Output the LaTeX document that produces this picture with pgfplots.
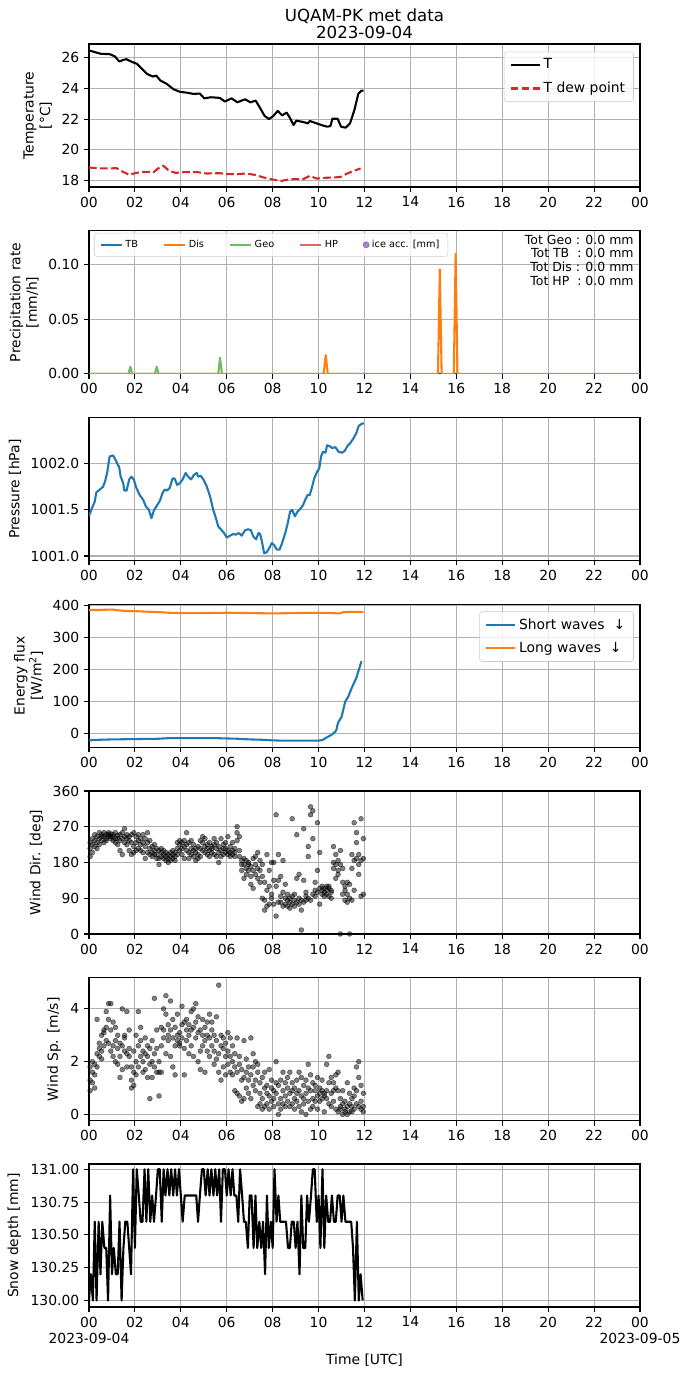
\documentclass[border=0pt]{standalone}
\usepackage{fontspec}
\setmainfont{DejaVu Sans}
\usepackage{pgfplots}
\usepackage{pgfplotstable}
\pgfplotsset{compat=1.18}
\definecolor{C0}{HTML}{1F77B4}
\definecolor{C1}{HTML}{FF7F0E}
\definecolor{C2}{HTML}{2CA02C}
\definecolor{C3}{HTML}{D62728}
\definecolor{C4}{HTML}{9467BD}
\definecolor{gridc}{HTML}{B0B0B0}
\definecolor{frame}{HTML}{CCCCCC}
\colorlet{C2l}{C2!70!white}
\colorlet{C3l}{C3!70!white}

\pgfplotstableread{
t d1 d2 d3 s1 s2 s3
0.05 195 230 215 1.3 1.8 0.9
0.15 240 205 225 1.6 2.0 1.2
0.25 250 235 220 1.9 1.5 1.0
0.35 230 245 215 2.3 3.6 1.8
0.45 240 225 255 2.5 2.2 2.7
0.55 250 235 245 2.4 3.0 2.1
0.65 245 255 230 3.1 2.6 3.2
0.75 240 250 235 3.3 2.8 3.9
0.85 250 245 255 3.6 4.2 2.7
0.95 245 240 252 3.2 2.4 4.2
1.05 250 235 245 2.6 3.5 2.2
1.15 240 255 230 2.8 2.0 3.3
1.25 225 248 240 1.9 2.5 3.0
1.35 210 235 250 2.2 1.4 2.7
1.45 200 255 240 2.6 4.0 1.7
1.55 265 245 230 2.4 3.0 2.9
1.65 250 225 240 2.3 3.9 1.8
1.75 235 210 245 2.5 2.2 3.2
1.85 200 230 250 1.3 1.0 1.8
1.95 220 255 205 1.6 2.4 1.1
2.05 245 230 210 2.0 3.0 1.5
2.15 250 235 215 3.9 2.6 1.8
2.25 240 225 210 3.3 2.2 2.8
2.35 230 250 205 2.0 1.6 2.4
2.45 190 220 240 2.9 1.7 2.3
2.55 205 230 255 2.2 1.4 2.6
2.65 215 200 235 0.6 1.9 2.5
2.75 220 205 195 2.8 2.0 1.4
2.85 210 225 200 4.4 2.3 1.8
2.95 200 215 190 2.5 3.2 1.6
3.05 190 210 175 1.6 0.7 2.0
3.15 215 205 195 3.3 2.6 1.6
3.25 200 190 210 4.0 2.9 3.2
3.35 195 185 205 4.5 3.8 2.3
3.45 200 190 180 3.4 2.8 3.0
3.55 205 195 185 4.3 2.2 3.2
3.65 200 190 210 2.9 1.8 3.6
3.75 195 205 185 3.3 2.6 1.5
3.85 215 230 200 3.8 2.8 3.0
3.95 225 235 210 2.6 3.1 2.7
4.05 230 215 200 4.1 2.9 3.4
4.15 220 235 190 3.5 2.5 1.5
4.25 255 210 225 3.6 2.8 3.2
4.35 230 205 190 2.3 3.0 3.4
4.45 215 200 235 3.9 2.6 3.2
4.55 210 195 225 3.3 4.0 2.2
4.65 205 185 215 4.2 3.5 2.9
4.75 200 190 220 3.1 2.0 3.7
4.85 215 235 195 2.4 1.7 3.2
4.95 230 245 210 3.0 3.6 2.6
5.05 220 205 240 2.8 1.6 3.3
5.15 215 200 225 3.5 2.4 3.0
5.25 210 230 195 3.8 2.9 2.2
5.35 205 220 215 3.2 2.6 3.5
5.45 225 240 200 2.4 3.0 1.9
5.55 215 195 230 3.7 2.1 2.8
5.65 205 180 220 4.9 2.3 1.6
5.75 210 240 195 3.0 1.3 2.6
5.85 225 200 215 2.5 1.8 2.9
5.95 215 205 230 2.7 2.2 1.5
6.05 245 210 200 3.1 2.4 1.9
6.15 220 205 195 2.2 2.9 1.6
6.25 210 230 200 2.0 1.5 2.6
6.35 215 195 205 1.8 0.9 2.3
6.45 270 255 235 2.9 1.6 0.8
6.55 210 245 195 0.7 1.9 2.2
6.65 185 175 160 0.5 1.3 1.7
6.75 140 175 190 2.8 0.6 1.4
6.85 165 185 150 1.0 2.1 1.6
6.95 180 160 175 1.8 0.8 1.3
7.05 125 170 145 2.9 1.5 0.6
7.15 190 115 160 2.3 1.1 1.8
7.25 175 150 195 2.0 1.3 0.9
7.35 140 205 165 1.6 0.3 1.9
7.45 185 130 160 1.2 0.8 0.4
7.55 145 90 175 1.4 0.6 0.2
7.65 60 85 130 1.0 0.3 1.6
7.75 200 110 70 0.4 1.1 0.8
7.85 120 160 75 1.7 0.7 0.2
7.95 180 100 90 1.0 0.5 1.3
8.05 135 75 180 0.9 0.3 0.6
8.15 300 45 120 2.0 0.8 1.2
8.25 200 135 80 0.4 1.1 0.0
8.35 95 80 145 1.3 0.6 0.2
8.45 105 70 185 1.6 0.9 0.4
8.55 90 75 125 0.7 1.2 0.3
8.65 85 100 70 1.0 0.5 1.4
8.75 80 90 65 1.6 0.8 0.3
8.85 290 75 95 0.9 1.2 0.4
8.95 85 70 100 0.6 1.0 0.2
9.05 250 140 80 1.3 0.5 0.8
9.15 90 150 75 1.6 0.9 0.3
9.25 10 60 85 0.7 1.4 0.1
9.35 265 135 80 1.1 0.6 0.4
9.45 95 85 105 0.8 1.3 0.0
9.55 220 195 90 1.9 0.5 1.0
9.65 320 300 85 0.2 0.9 1.5
9.75 310 240 100 0.6 1.2 0.3
9.85 110 130 95 0.9 0.5 1.1
9.95 280 160 105 1.4 0.7 0.2
10.05 205 75 115 0.8 1.0 0.5
10.15 110 120 100 0.9 0.6 1.3
10.25 105 95 115 0.7 0.8 0.1
10.35 120 110 100 1.9 0.9 0.6
10.45 115 95 120 2.2 1.2 0.4
10.55 105 110 90 0.8 1.4 0.3
10.65 220 165 180 1.2 0.5 0.9
10.75 140 200 175 1.5 1.0 0.2
10.85 160 150 185 0.1 0.9 1.6
10.95 0 210 175 0.3 0.6 0.2
11.05 130 100 165 0.0 0.4 0.9
11.15 110 85 120 0.2 0.5 0.1
11.25 100 80 130 1.2 0.3 0.0
11.35 0 125 90 0.4 0.8 0.1
11.45 200 165 85 0.1 0.6 0.3
11.55 185 110 280 1.0 0.2 0.7
11.65 255 230 190 1.8 0.4 0.9
11.75 175 200 150 2.0 1.4 0.3
11.85 290 185 95 0.5 0.2 1.1
11.95 190 240 100 0.3 0.8 0.1
}\windtable

\pgfplotsset{
  panel/.style={
    scale only axis, width=396.72pt, height=102.96pt, anchor=north west,
    xmin=0, xmax=24, xtick={0,2,...,24},
    xticklabels={00,02,04,06,08,10,12,14,16,18,20,22,00},
    grid=major, major grid style={line width=0.8pt, draw=gridc},
    axis line style={line width=0.8pt},
    every tick/.style={line width=0.8pt, black},
    tick align=outside, major tick length=3.5pt, tick pos=left,
    tick label style={font=\fontsize{10}{12}\selectfont},
    label style={font=\fontsize{10}{12}\selectfont},
    ylabel style={align=center},
    /pgf/number format/assume math mode=true,
    /pgf/number format/1000 sep={},
    scaled ticks=false,
    no markers,
    every axis plot/.append style={line join=round},
    legend cell align=left,
    legend image code/.code={\draw[mark repeat=2,mark phase=2,##1] plot coordinates {(0pt,0pt) (10.5pt,0pt) (21pt,0pt)};},
  },
  mpllegend/.style={legend style={draw=frame, rounded corners=2pt, fill=white, fill opacity=0.8, text opacity=1, font=\fontsize{10}{12}\selectfont, row sep=4pt, inner xsep=4pt, inner ysep=3pt}},
  scat/.style={only marks, mark=*, mark size=1.75pt, mark options={solid, fill=black, draw=black, line width=0.4pt, fill opacity=0.5, draw opacity=0.5}},
}

\begin{document}
\begin{tikzpicture}
\path[use as bounding box] (-64.08pt,31.68pt) rectangle (432.72pt,-959.76pt);

% ---------- Panel 1: temperature
\begin{axis}[panel, at={(0pt,0pt)},
  ymin=17.58, ymax=26.9, ytick={18,20,22,24,26},
  ylabel={Temperature\\{}[°C]},
  title={UQAM-PK met data\\2023-09-04},
  title style={align=center, font=\fontsize{12}{12.5}\selectfont, yshift=-6pt},
  mpllegend, legend style={at={(1,1)}, anchor=north east, xshift=-4.5pt, yshift=-5.5pt}]
\addplot[black, line width=1.5pt] coordinates {
(0.00,26.48) (0.52,26.26) (0.90,26.24) (1.13,26.09) (1.32,25.76) (1.51,25.87) (1.63,25.91)
(1.86,25.74) (2.09,25.61) (2.28,25.32) (2.53,24.95) (2.78,24.78) (2.93,24.84) (3.11,24.52)
(3.39,24.30) (3.68,23.95) (3.97,23.78) (4.26,23.73) (4.54,23.65) (4.83,23.67) (5.02,23.36)
(5.31,23.43) (5.69,23.39) (5.92,23.15) (6.21,23.36) (6.46,23.10) (6.80,23.30) (7.03,23.10)
(7.26,23.21) (7.46,22.71) (7.65,22.21) (7.84,22.01) (8.03,22.21) (8.22,22.54) (8.41,22.25)
(8.61,22.43) (8.76,22.06) (8.91,21.62) (9.03,21.90) (9.33,21.82) (9.53,21.73) (9.62,21.88)
(9.91,21.73) (10.20,21.58) (10.39,21.51) (10.52,21.56) (10.60,22.03) (10.83,22.03) (10.98,21.51)
(11.18,21.45) (11.37,21.73) (11.56,22.60) (11.73,23.65) (11.87,23.86) (11.96,23.86)};
\addlegendentry{T}
\addplot[C3, line width=1.5pt, dash pattern=on 5.55pt off 2.4pt] coordinates {
(0,18.85) (0.52,18.79) (0.90,18.79) (1.19,18.81) (1.48,18.57) (1.76,18.37) (2.05,18.50)
(2.43,18.57) (2.82,18.55) (3.01,18.79) (3.24,18.96) (3.49,18.64) (3.78,18.50) (4.16,18.55)
(4.73,18.55) (5.12,18.46) (5.69,18.48) (6.08,18.42) (6.46,18.42) (6.84,18.46) (7.23,18.37)
(7.61,18.20) (7.99,18.07) (8.38,17.98) (8.76,18.09) (9.33,18.09) (9.62,18.31) (9.91,18.13)
(10.29,18.18) (10.68,18.20) (10.96,18.24) (11.25,18.46) (11.54,18.64) (11.83,18.79)};
\addlegendentry{T dew point}
\end{axis}

% ---------- Panel 2: precipitation
\begin{axis}[panel, at={(0pt,-134.5pt)},
  ymin=0, ymax=0.131, ytick={0,0.05,0.1},
  yticklabel style={/pgf/number format/.cd, fixed, fixed zerofill, precision=2},
  ylabel={Precipitation rate\\{}[mm/h]},
  mpllegend, legend columns=5,
  legend style={at={(0.009,0.986)}, anchor=north west, font=\fontsize{7}{8}\selectfont, row sep=0pt,
    /tikz/every even column/.append style={column sep=16pt}},
  legend image code/.code={\draw[mark repeat=2,mark phase=2,#1] plot coordinates {(0pt,0pt) (7.5pt,0pt) (15pt,0pt)};}]
\addplot[C0, line width=1.5pt] coordinates {(0,0) (11.95,0)};
\addlegendentry{TB}
\addplot[C1, line width=1.5pt] coordinates {(0,0) (10.22,0) (10.31,0.0172) (10.40,0) (15.20,0) (15.28,0.0957) (15.36,0) (15.89,0) (15.97,0.110) (16.05,0) (24,0)};
\addlegendentry{Dis}
\addplot[C2l, line width=1.5pt] coordinates {(0,0) (1.72,0) (1.80,0.0065) (1.88,0) (2.87,0) (2.95,0.0065) (3.03,0) (5.63,0) (5.71,0.0148) (5.79,0) (11.95,0)};
\addlegendentry{Geo}
\addlegendimage{C3l, line width=1.5pt}
\addlegendentry{HP}
\addlegendimage{only marks, mark=*, mark size=2.2pt, C4}
\addlegendentry{ice acc. [mm]}
\node[anchor=north east, align=right, font=\fontsize{9}{9.8}\selectfont, inner sep=0pt] at (rel axis cs:0.989,0.972)
  {Tot Geo : 0.0 mm\\Tot TB\ \ : 0.0 mm\\Tot Dis : 0.0 mm\\Tot HP\ \ : 0.0 mm};
\end{axis}

% ---------- Panel 3: pressure
\begin{axis}[panel, at={(0pt,-269pt)},
  ymin=1000.95, ymax=1002.50, ytick={1001,1001.5,1002},
  yticklabel style={/pgf/number format/.cd, fixed, fixed zerofill, precision=1, 1000 sep={}},
  ylabel={Pressure [hPa]}]
\addplot[C0, line width=1.5pt] coordinates {
(0.00,1001.435) (0.15,1001.53) (0.25,1001.59) (0.32,1001.69) (0.47,1001.72) (0.61,1001.75)
(0.70,1001.81) (0.79,1001.90) (0.90,1002.08) (1.05,1002.09) (1.16,1002.04) (1.27,1001.98)
(1.31,1001.97) (1.38,1001.86) (1.49,1001.79) (1.54,1001.71) (1.64,1001.71) (1.75,1001.83)
(1.85,1001.86) (1.95,1001.83) (2.06,1001.74) (2.21,1001.66) (2.36,1001.61) (2.47,1001.54)
(2.61,1001.50) (2.72,1001.41) (2.82,1001.49) (2.94,1001.54) (3.09,1001.60) (3.20,1001.68)
(3.30,1001.72) (3.41,1001.71) (3.52,1001.74) (3.64,1001.84) (3.73,1001.84) (3.84,1001.77)
(3.96,1001.79) (4.08,1001.83) (4.21,1001.90) (4.32,1001.86) (4.45,1001.83) (4.57,1001.88)
(4.69,1001.90) (4.76,1001.86) (4.86,1001.87) (4.98,1001.83) (5.12,1001.76) (5.27,1001.65)
(5.41,1001.50) (5.53,1001.41) (5.63,1001.32) (5.78,1001.28) (5.88,1001.25) (6.00,1001.20)
(6.14,1001.22) (6.29,1001.24) (6.40,1001.23) (6.52,1001.25) (6.65,1001.22) (6.80,1001.28)
(6.94,1001.29) (7.05,1001.28) (7.16,1001.21) (7.28,1001.18) (7.38,1001.25) (7.45,1001.24)
(7.52,1001.17) (7.63,1001.03) (7.74,1001.04) (7.86,1001.09) (7.96,1001.14) (8.06,1001.12)
(8.18,1001.07) (8.30,1001.07) (8.41,1001.14) (8.55,1001.25) (8.66,1001.36) (8.76,1001.48)
(8.85,1001.50) (8.97,1001.43) (9.08,1001.48) (9.20,1001.51) (9.32,1001.55) (9.42,1001.61)
(9.52,1001.66) (9.61,1001.66) (9.71,1001.74) (9.81,1001.84) (9.93,1001.91) (10.03,1001.95)
(10.11,1002.08) (10.19,1002.13) (10.30,1002.12) (10.37,1002.20) (10.49,1002.19) (10.59,1002.17)
(10.73,1002.18) (10.87,1002.13) (11.03,1002.12) (11.14,1002.14) (11.25,1002.19) (11.40,1002.23)
(11.53,1002.28) (11.64,1002.33) (11.75,1002.41) (11.86,1002.43) (11.97,1002.44)};
\end{axis}

% ---------- Panel 4: energy flux
\begin{axis}[panel, at={(0pt,-403.5pt)},
  ymin=-44, ymax=402, ytick={0,100,200,300,400},
  ylabel={Energy flux\\{}[W/m\textsuperscript{2}]},
  mpllegend, legend style={at={(1,1)}, anchor=north east, xshift=-4.5pt, yshift=-5pt}]
\addplot[C0, line width=1.5pt] coordinates {
(0,-22) (0.5,-20) (1,-19) (2,-18) (3,-17) (3.5,-15) (4,-15) (5,-15) (5.5,-15) (6,-16)
(6.5,-17) (7,-19) (7.5,-20) (8,-22) (8.5,-23) (9,-23) (9.5,-23) (10,-23) (10.2,-20)
(10.3,-15) (10.45,-9) (10.58,-4) (10.68,2) (10.77,9) (10.82,25) (10.87,36) (11.0,51)
(11.08,75) (11.16,99) (11.29,114) (11.44,141) (11.64,172) (11.87,225)};
\addlegendentry{Short waves\ \ ↓}
\addplot[C1, line width=1.5pt] coordinates {
(0,384) (0.5,385) (1,386) (1.5,382) (2,381) (3,378) (3.5,376) (4,375) (5,375) (6,376)
(7,375) (8,374) (9,375) (10,376) (10.5,375) (10.9,374) (11.1,378) (11.5,379) (11.95,379)};
\addlegendentry{Long waves\ \ ↓}
\end{axis}

% ---------- Panel 5: wind direction
\begin{axis}[panel, at={(0pt,-537.8pt)},
  ymin=0, ymax=360, ytick={0,90,180,270,360},
  ylabel={Wind Dir. [deg]}]
\addplot[scat] table[x=t, y=d1] {\windtable};
\addplot[scat] table[x=t, y=d2] {\windtable};
\addplot[scat] table[x=t, y=d3] {\windtable};
\end{axis}

% ---------- Panel 6: wind speed
\begin{axis}[panel, at={(0pt,-672.3pt)},
  ymin=-0.24, ymax=5.18, ytick={0,2,4},
  ylabel={Wind Sp. [m/s]}]
\addplot[scat] table[x=t, y=s1] {\windtable};
\addplot[scat] table[x=t, y=s2] {\windtable};
\addplot[scat] table[x=t, y=s3] {\windtable};
\end{axis}

% ---------- Panel 7: snow depth
\begin{axis}[panel, at={(0pt,-806.4pt)},
  ymin=129.95, ymax=131.04, ytick={130,130.25,130.5,130.75,131},
  yticklabel style={/pgf/number format/.cd, fixed, fixed zerofill, precision=2, 1000 sep={}},
  ylabel={Snow depth [mm]},
  xticklabels={{00\\2023-09-04},02,04,06,08,10,12,14,16,18,20,22,{00\\2023-09-05}},
  xticklabel style={align=center},
  xlabel={Time [UTC]}]
\addplot[black, line width=1.5pt] table {
t v
0.00 130.0
0.08 130.2
0.17 130.0
0.25 130.6
0.33 130.0
0.42 130.6
0.50 130.2
0.58 130.6
0.67 130.4
0.75 130.4
0.83 130.0
0.92 130.8
1.00 130.2
1.08 130.4
1.17 130.2
1.25 130.2
1.33 130.6
1.42 130.0
1.50 130.4
1.58 130.6
1.67 130.6
1.75 130.4
1.83 130.2
1.92 131.0
2.00 130.4
2.08 131.0
2.17 130.8
2.25 130.6
2.33 130.6
2.42 131.0
2.50 130.6
2.58 131.0
2.67 130.6
2.75 130.8
2.83 130.6
2.92 130.8
3.00 131.0
3.08 131.0
3.17 130.6
3.25 131.0
3.33 130.8
3.42 131.0
3.50 130.8
3.58 131.0
3.67 130.8
3.75 131.0
3.83 130.8
3.92 131.0
4.00 130.8
4.08 130.6
4.17 130.8
4.25 130.8
4.33 130.8
4.42 130.8
4.50 130.8
4.58 130.8
4.67 130.8
4.75 130.6
4.83 130.8
4.92 131.0
5.00 131.0
5.08 130.8
5.17 131.0
5.25 130.8
5.33 131.0
5.42 130.8
5.50 131.0
5.58 130.8
5.67 131.0
5.75 130.6
5.83 131.0
5.92 131.0
6.00 130.8
6.08 131.0
6.17 130.8
6.25 131.0
6.33 130.8
6.42 130.8
6.50 130.6
6.58 131.0
6.67 130.8
6.75 130.6
6.83 130.6
6.92 130.4
7.00 130.8
7.08 130.8
7.17 130.4
7.25 130.8
7.33 130.4
7.42 130.6
7.50 130.4
7.58 130.6
7.67 130.2
7.75 130.8
7.83 130.4
7.92 130.6
8.00 130.4
8.08 131.0
8.17 130.6
8.25 130.8
8.33 130.6
8.42 130.6
8.50 130.6
8.58 130.6
8.67 130.4
8.75 130.4
8.83 130.6
8.92 130.6
9.00 130.4
9.08 130.6
9.17 130.2
9.25 130.8
9.33 130.4
9.42 130.4
9.50 130.8
9.58 130.6
9.67 130.8
9.75 131.0
9.83 131.0
9.92 130.6
10.00 130.8
10.08 130.4
10.17 131.0
10.25 130.4
10.33 130.8
10.42 130.6
10.50 130.6
10.58 130.8
10.67 130.6
10.75 130.6
10.83 130.8
10.92 130.8
11.00 130.6
11.08 130.8
11.17 130.6
11.25 130.6
11.33 130.6
11.42 130.6
11.50 130.4
11.58 130.0
11.67 130.6
11.75 130.0
11.83 130.2
11.92 130.0
};
\end{axis}
\end{tikzpicture}
\end{document}
